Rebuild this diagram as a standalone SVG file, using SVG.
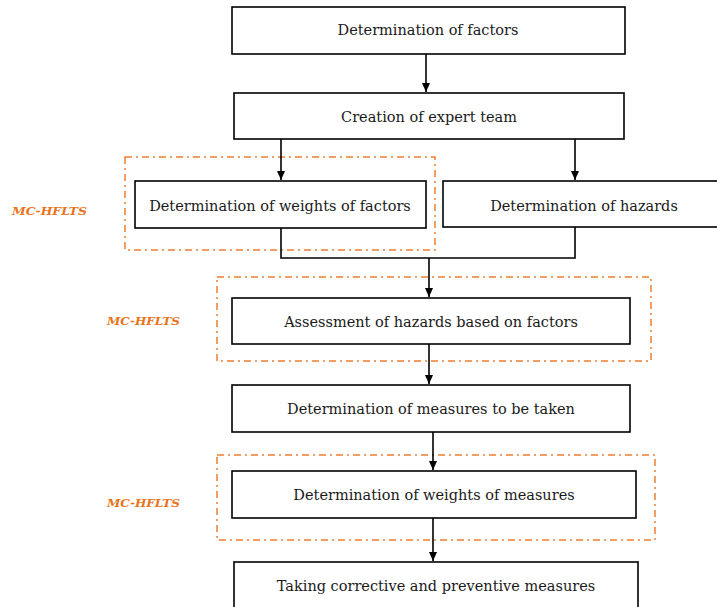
<svg xmlns="http://www.w3.org/2000/svg" width="717" height="607" viewBox="0 0 717 607">
<defs>
<marker id="arr" markerWidth="10" markerHeight="10" refX="9" refY="5" orient="auto" markerUnits="userSpaceOnUse">
<path d="M0,1 L9,5 L0,9 Z" fill="#000"/>
</marker>
<style>
.box{fill:#fff;stroke:#000;stroke-width:1.6}
.t{font-family:"DejaVu Serif","Liberation Serif",serif;font-size:14.5px;fill:#1a1a1a;text-anchor:middle;dominant-baseline:central}
.grp{fill:none;stroke:#ED7D31;stroke-width:1.5;stroke-dasharray:7 4 2 4}
.lbl{font-family:"DejaVu Serif","Liberation Serif",serif;font-size:11px;font-weight:bold;font-style:italic;fill:#E8741E}
.c{fill:none;stroke:#000;stroke-width:1.6}
</style>
</defs>
<rect width="717" height="607" fill="#fff"/>
<g id="groups">
<rect class="grp" x="125" y="157" width="310" height="93"/>
<rect class="grp" x="217" y="277" width="434" height="84"/>
<rect class="grp" x="217" y="455" width="438" height="85"/>
<text class="lbl" x="12" y="215" textLength="75" lengthAdjust="spacingAndGlyphs">MC-HFLTS</text>
<text class="lbl" x="107" y="325" textLength="73" lengthAdjust="spacingAndGlyphs">MC-HFLTS</text>
<text class="lbl" x="107" y="507" textLength="73" lengthAdjust="spacingAndGlyphs">MC-HFLTS</text>
</g>
<g id="connectors">
<path class="c" d="M426,54 V92" marker-end="url(#arr)"/>
<path class="c" d="M281,139 V180" marker-end="url(#arr)"/>
<path class="c" d="M575,139 V180" marker-end="url(#arr)"/>
<path class="c" d="M281,228 V258 H575 V227"/>
<path class="c" d="M429,258 V297" marker-end="url(#arr)"/>
<path class="c" d="M429,344 V384" marker-end="url(#arr)"/>
<path class="c" d="M433,432 V470" marker-end="url(#arr)"/>
<path class="c" d="M433,518 V561" marker-end="url(#arr)"/>
</g>
<g id="n1"><rect class="box" x="232" y="7" width="393" height="47"/><text class="t" x="428" y="30">Determination of factors</text></g>
<g id="n2"><rect class="box" x="234" y="93" width="390" height="46"/><text class="t" x="429" y="117">Creation of expert team</text></g>
<g id="n3"><rect class="box" x="135" y="181" width="291" height="47"/><text class="t" x="280" y="206">Determination of weights of factors</text></g>
<g id="n4"><rect class="box" x="443" y="181" width="290" height="46"/><text class="t" x="584" y="206">Determination of hazards</text></g>
<g id="n5"><rect class="box" x="232" y="298" width="398" height="46"/><text class="t" x="431" y="322">Assessment of hazards based on factors</text></g>
<g id="n6"><rect class="box" x="232" y="385" width="398" height="47"/><text class="t" x="431" y="409">Determination of measures to be taken</text></g>
<g id="n7"><rect class="box" x="232" y="471" width="404" height="47"/><text class="t" x="434" y="495">Determination of weights of measures</text></g>
<g id="n8"><rect class="box" x="234" y="562" width="404" height="50"/><text class="t" x="436" y="586">Taking corrective and preventive measures</text></g>
</svg>
